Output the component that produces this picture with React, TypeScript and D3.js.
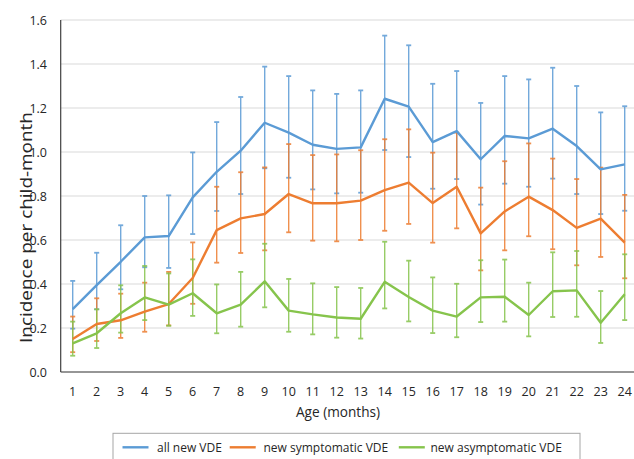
import React from "react";
import * as d3 from "d3";

const ages = ["1","2","3","4","5","6","7","8","9","10","11","12","13","14","15","16","17","18","19","20","21","22","23","24"];
const yTicks = [0, 0.2, 0.4, 0.6, 0.8, 1.0, 1.2, 1.4, 1.6];

const allMean = [0.286,0.395,0.501,0.612,0.618,0.794,0.91,1.006,1.133,1.088,1.033,1.014,1.021,1.242,1.206,1.045,1.095,0.967,1.073,1.062,1.106,1.027,0.921,0.944];
const allUpper = [0.414,0.542,0.667,0.80,0.803,0.998,1.136,1.25,1.388,1.345,1.28,1.264,1.28,1.529,1.485,1.31,1.368,1.223,1.345,1.33,1.383,1.30,1.18,1.208];
const allLower = [0.197,0.285,0.376,0.476,0.473,0.627,0.732,0.809,0.926,0.883,0.83,0.812,0.815,1.009,0.977,0.833,0.877,0.761,0.856,0.842,0.879,0.809,0.718,0.733];

const symMean = [0.15,0.218,0.235,0.274,0.309,0.427,0.645,0.698,0.718,0.809,0.767,0.767,0.779,0.827,0.861,0.768,0.842,0.630,0.73,0.797,0.736,0.655,0.697,0.588];
const symUpper = [0.252,0.335,0.356,0.406,0.455,0.589,0.842,0.908,0.93,1.036,0.986,0.989,1.008,1.058,1.103,0.997,1.088,0.838,0.958,1.039,0.97,0.877,0.929,0.805];
const symLower = [0.09,0.141,0.155,0.183,0.212,0.31,0.497,0.541,0.553,0.635,0.597,0.594,0.60,0.642,0.673,0.588,0.653,0.462,0.553,0.617,0.558,0.485,0.523,0.426];

const asymMean = [0.13,0.176,0.267,0.339,0.306,0.358,0.267,0.306,0.412,0.279,0.262,0.248,0.242,0.41,0.341,0.279,0.252,0.339,0.342,0.259,0.367,0.371,0.224,0.353];
const asymUpper = [0.229,0.285,0.394,0.482,0.448,0.512,0.398,0.455,0.583,0.423,0.403,0.386,0.382,0.592,0.506,0.43,0.401,0.508,0.511,0.406,0.544,0.55,0.368,0.535];
const asymLower = [0.074,0.109,0.179,0.236,0.21,0.255,0.176,0.206,0.294,0.183,0.171,0.156,0.152,0.289,0.23,0.177,0.158,0.227,0.229,0.162,0.25,0.251,0.132,0.236];

const seriesNames = ["all new VDE", "new symptomatic VDE", "new asymptomatic VDE"];
const seriesColors = ["#5B9BD5", "#ED7D31", "#86C44C"];

const W = 634;
const H = 459;
const plotLeft = 60.7;
const plotRight = 636.7;
const plotTop = 20;
const plotBottom = 372;

export default function App() {
  const x = d3.scaleBand<string>().domain(ages).range([plotLeft, plotRight]);
  const cx = (a: string) => (x(a) as number) + x.bandwidth() / 2;
  const y = d3.scaleLinear().domain([0, 1.6]).range([plotBottom, plotTop]);

  const series = [
    { mean: allMean, upper: allUpper, lower: allLower },
    { mean: symMean, upper: symUpper, lower: symLower },
    { mean: asymMean, upper: asymUpper, lower: asymLower },
  ];

  const line = d3
    .line<number>()
    .x((_, i) => cx(ages[i]))
    .y((d) => y(d));

  const font = "'Open Sans', sans-serif";
  const textColor = "#262626";
  const capW = 2.5;

  const legendItems = [
    { lx: 122.5, tx: 157 },
    { lx: 229.7, tx: 263.5 },
    { lx: 398.8, tx: 430.5 },
  ];

  return (
    <svg
      width={W}
      height={H}
      style={{ position: "absolute", left: 0, top: 0, background: "#fff" }}
      fontFamily={font}
    >
      <rect x={0} y={0} width={W} height={H} fill="#fff" />
      {yTicks.map((t) => (
        <line
          key={"g" + t}
          x1={plotLeft}
          x2={plotRight}
          y1={y(t)}
          y2={y(t)}
          stroke="#d9d9d9"
          strokeWidth={1}
        />
      ))}
      {yTicks.map((t) => (
        <text
          key={"yt" + t}
          x={47}
          y={y(t)}
          dy="0.36em"
          textAnchor="end"
          fontSize={12.5}
          fill={textColor}
        >
          {t.toFixed(1)}
        </text>
      ))}
      {ages.map((a) => (
        <text
          key={"xt" + a}
          x={cx(a)}
          y={396}
          textAnchor="middle"
          fontSize={12.5}
          fill={textColor}
        >
          {a}
        </text>
      ))}
      <line x1={plotLeft} x2={plotLeft} y1={plotTop} y2={plotBottom} stroke="#404040" strokeWidth={1.2} />
      <line x1={plotLeft} x2={plotRight} y1={plotBottom} y2={plotBottom} stroke="#404040" strokeWidth={1.2} />

      {series.map((s, si) => (
        <g key={"eb" + si} stroke={seriesColors[si]} strokeWidth={1.4} opacity={0.85}>
          {ages.map((a, i) => (
            <g key={a}>
              <line x1={cx(a)} x2={cx(a)} y1={y(s.upper[i])} y2={y(s.lower[i])} />
              <line x1={cx(a) - capW} x2={cx(a) + capW} y1={y(s.upper[i])} y2={y(s.upper[i])} strokeWidth={1.8} />
              <line x1={cx(a) - capW} x2={cx(a) + capW} y1={y(s.lower[i])} y2={y(s.lower[i])} strokeWidth={1.8} />
            </g>
          ))}
        </g>
      ))}
      {series.map((s, si) => (
        <path
          key={"ln" + si}
          d={line(s.mean) || ""}
          fill="none"
          stroke={seriesColors[si]}
          strokeWidth={2.4}
          strokeLinejoin="round"
        />
      ))}

      <text
        transform={`translate(31.5, 227.5) rotate(-90)`}
        textAnchor="middle"
        fontSize={15.5}
        fill={textColor}
        textLength={231}
        lengthAdjust="spacingAndGlyphs"
      >
        Incidence per child-month
      </text>
      <text x={338} y={417} textAnchor="middle" fontSize={14.5} fill={textColor} textLength={84} lengthAdjust="spacingAndGlyphs">
        Age (months)
      </text>

      <rect x={113} y={433.3} width={467} height={40} fill="#fff" stroke="#a6a6a6" strokeWidth={1} />
      {seriesNames.map((n, i) => (
        <g key={"lg" + i}>
          <line
            x1={legendItems[i].lx}
            x2={legendItems[i].lx + 26}
            y1={447.3}
            y2={447.3}
            stroke={seriesColors[i]}
            strokeWidth={2.4}
          />
          <text x={legendItems[i].tx} y={451.5} fontSize={12} fill={textColor}>
            {n}
          </text>
        </g>
      ))}
    </svg>
  );
}
